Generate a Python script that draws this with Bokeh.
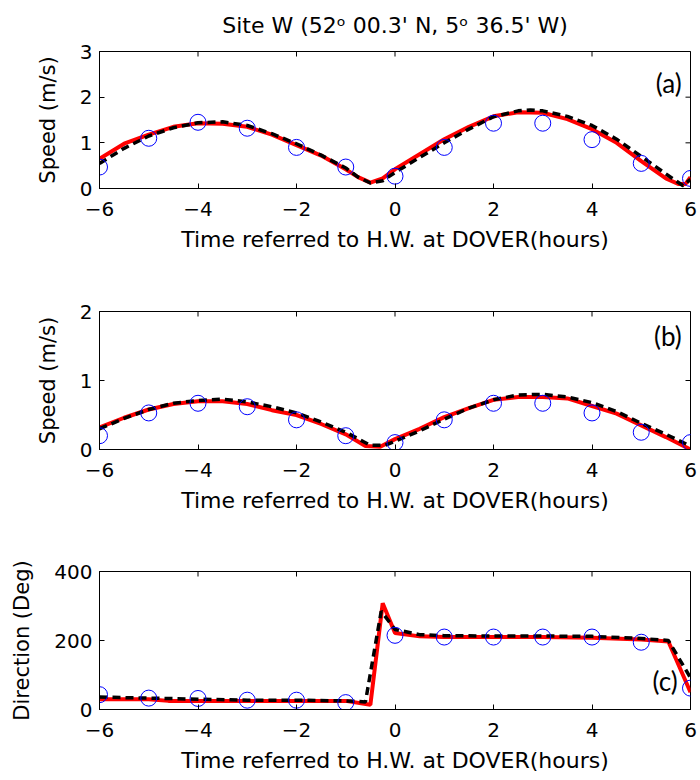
import math
from bokeh.plotting import figure
from bokeh.layouts import column
from bokeh.models import FixedTicker, Label, Title, Range1d
from bokeh.embed import file_html
from bokeh.resources import INLINE

# ---------------- data ----------------
hours_obs = [-6, -5, -4, -3, -2, -1, 0, 1, 2, 3, 4, 5, 6]

# panel (a) speed
a_obs = [0.47, 1.10, 1.45, 1.32, 0.90, 0.47, 0.27, 0.90, 1.43, 1.43, 1.07, 0.55, 0.22]
a_red_t = [-6, -5.5, -5, -4.5, -4, -3.5, -3, -2.5, -2, -1.5, -1, -0.75, -0.5, -0.25, 0,
           0.5, 1, 1.5, 2, 2.5, 3, 3.5, 4, 4.5, 5, 5.5, 5.75, 5.9, 6]
a_red = [0.65, 0.98, 1.18, 1.35, 1.43, 1.42, 1.35, 1.18, 0.95, 0.72, 0.42, 0.25, 0.13, 0.22, 0.42,
         0.75, 1.08, 1.35, 1.58, 1.67, 1.66, 1.52, 1.30, 1.00, 0.60, 0.22, 0.10, 0.10, 0.25]
a_blk_t = [-6, -5.5, -5, -4.5, -4, -3.5, -3, -2.5, -2, -1.5, -1, -0.75, -0.5, -0.25, 0,
           0.5, 1, 1.5, 2, 2.5, 2.75, 3, 3.5, 4, 4.5, 5, 5.5, 5.85, 6]
a_blk = [0.55, 0.88, 1.15, 1.33, 1.44, 1.46, 1.38, 1.20, 0.98, 0.73, 0.45, 0.25, 0.12, 0.17, 0.35,
         0.68, 1.00, 1.30, 1.57, 1.70, 1.72, 1.70, 1.58, 1.38, 1.08, 0.70, 0.32, 0.06, 0.20]

# panel (b) speed
b_obs = [0.20, 0.53, 0.67, 0.62, 0.43, 0.20, 0.10, 0.43, 0.67, 0.67, 0.53, 0.25, 0.10]
b_red_t = [-6, -5.5, -5, -4.5, -4, -3.5, -3, -2.5, -2, -1.5, -1, -0.6, -0.3, 0,
           0.5, 1, 1.5, 2, 2.5, 3, 3.5, 4, 4.5, 5, 5.5, 6]
b_red = [0.32, 0.46, 0.58, 0.66, 0.70, 0.70, 0.66, 0.57, 0.50, 0.37, 0.22, 0.05, 0.04, 0.15,
         0.30, 0.47, 0.60, 0.72, 0.76, 0.76, 0.74, 0.63, 0.52, 0.35, 0.18, 0.00]
b_blk_t = [-6, -5.5, -5, -4.5, -4, -3.5, -3, -2.5, -2, -1.5, -1, -0.5, -0.2, 0,
           0.5, 1, 1.5, 2, 2.5, 3, 3.5, 4, 4.5, 5, 5.5, 6]
b_blk = [0.30, 0.45, 0.58, 0.67, 0.71, 0.73, 0.69, 0.62, 0.53, 0.40, 0.25, 0.06, 0.06, 0.12,
         0.27, 0.44, 0.60, 0.72, 0.79, 0.80, 0.76, 0.68, 0.55, 0.38, 0.22, 0.05]

# panel (c) direction
c_obs = [43, 33, 32, 27, 27, 20, 215, 210, 210, 210, 210, 195, 62]
c_red_t = [-6, -5, -4.6, -4, -3, -2, -1, -0.5, -0.25, 0, 0.5, 1, 2, 3, 4, 5, 5.55, 6]
c_red = [30, 30, 25, 25, 25, 25, 25, 14, 308, 222, 212, 210, 210, 210, 208, 203, 197, 50]
c_blk_t = [-6, -5, -4, -3, -2, -1, -0.6, -0.28, 0, 0.5, 1, 2, 3, 4, 5, 5.55, 6]
c_blk = [36, 33, 30, 27, 27, 25, 22, 285, 232, 217, 214, 213, 213, 212, 206, 200, 92]

x_ticks = [-6, -4, -2, 0, 2, 4, 6]
a_yticks = [0, 1, 2, 3]
b_yticks = [0, 1, 2]
c_yticks = [0, 200, 400]

title_text = "Site W (52\u1d52 00.3' N, 5\u1d52 36.5' W)"
x_label = "Time referred to H.W. at DOVER(hours)"

FONT = "DejaVu Sans"
TICK_FS = "20px"
XLAB_FS = "22px"
YLAB_FS = "21px"


def make_panel(h, top, bottom, yr, yticks, ylabel, t_red, v_red, t_blk, v_blk, obs,
               tag, tag_x, tag_y, title=None):
    p = figure(width=700, height=h, output_backend="svg", toolbar_location=None,
               x_range=Range1d(-6, 6), y_range=Range1d(*yr),
               min_border_left=99, min_border_right=10,
               min_border_top=top, min_border_bottom=bottom)
    p.xgrid.visible = False
    p.ygrid.visible = False
    p.outline_line_color = "black"
    p.outline_line_width = 1
    p.background_fill_color = "white"
    p.border_fill_color = "white"

    for ax, ticks in ((p.xaxis[0], x_ticks), (p.yaxis[0], yticks)):
        ax.ticker = FixedTicker(ticks=ticks)
        ax.major_tick_in = 5
        ax.major_tick_out = 0
        ax.minor_tick_in = 0
        ax.minor_tick_out = 0
        ax.axis_line_color = "black"
        ax.major_tick_line_color = "black"
        ax.major_label_text_font = FONT
        ax.major_label_text_font_size = TICK_FS
        ax.major_label_text_color = "black"
        ax.axis_label_text_font = FONT
        ax.axis_label_text_font_style = "normal"
        ax.axis_label_text_color = "black"
    p.xaxis[0].axis_label = x_label
    p.xaxis[0].axis_label_text_font_size = XLAB_FS
    p.xaxis[0].major_label_standoff = 13
    p.xaxis[0].axis_label_standoff = 8
    p.yaxis[0].axis_label = ylabel
    p.yaxis[0].axis_label_text_font_size = YLAB_FS
    p.yaxis[0].major_label_standoff = 7
    p.yaxis[0].axis_label_standoff = 17

    if title is not None:
        p.title = Title(text=title, align="center", vertical_align="top",
                        text_font=FONT, text_font_size="22px",
                        text_font_style="normal", text_color="black", standoff=24)

    p.line(t_red, v_red, line_color="red", line_width=4)
    p.line(t_blk, v_blk, line_color="black", line_width=3.5, line_dash="8 5")
    p.scatter(hours_obs, obs, marker="circle", size=16, fill_color=None,
              line_color="blue", line_width=1)

    # inward ticks on the top and right edges (clipped to the frame)
    p.scatter(x_ticks, [yr[1]] * len(x_ticks), marker="dash", angle=math.pi / 2,
              size=10, line_color="black", line_width=1)
    p.scatter([6] * len(yticks), yticks, marker="dash", size=10,
              line_color="black", line_width=1)

    p.add_layout(Label(x=tag_x, y=tag_y, text=tag, text_align="right",
                       text_baseline="middle", text_font="Lato",
                       text_font_size="26px", text_color="black"))
    return p


pa = make_panel(262, 50, 74, (0, 3), a_yticks, "Speed (m/s)", a_red_t, a_red,
                a_blk_t, a_blk, a_obs, "(a)", 5.82, 2.32, title=title_text)
pb = make_panel(260, 49, 73, (0, 2), b_yticks, "Speed (m/s)", b_red_t, b_red,
                b_blk_t, b_blk, b_obs, "(b)", 5.82, 1.64)
pc = make_panel(258, 49, 71, (0, 400), c_yticks, "Direction (Deg)", c_red_t, c_red,
                c_blk_t, c_blk, c_obs, "(c)", 5.74, 84)

layout = column(pa, pb, pc, spacing=0)
open("out.html", "w").write(file_html(layout, INLINE))
